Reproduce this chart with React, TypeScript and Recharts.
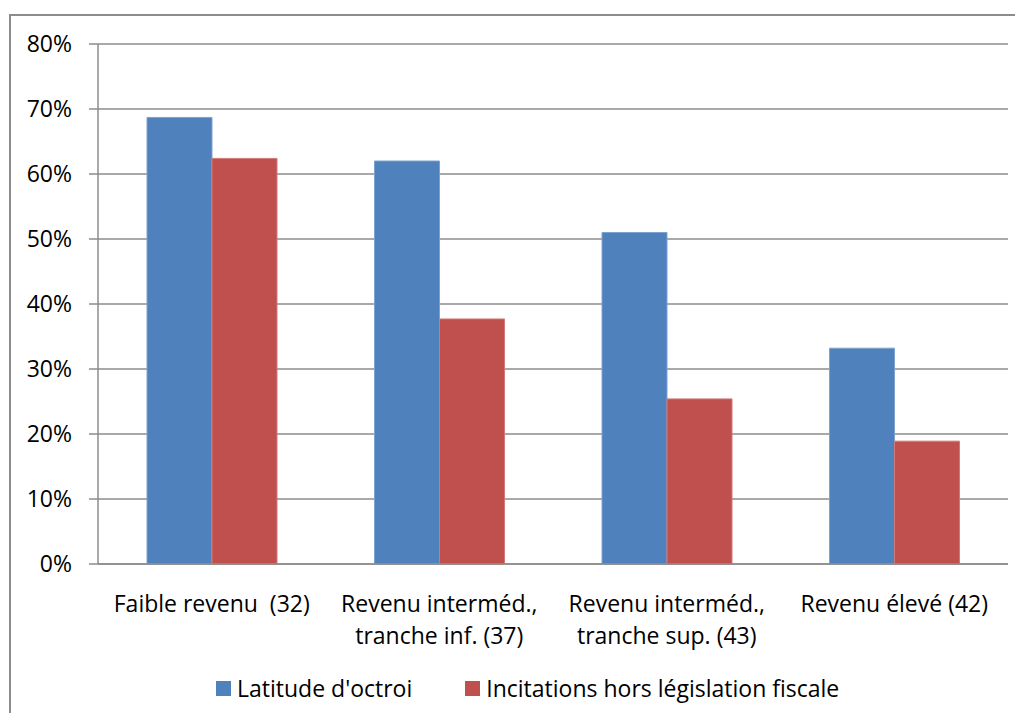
import React from "react";
import { BarChart, Bar, XAxis, YAxis, CartesianGrid } from "recharts";

// categories (\n marks the line break of the axis label)
const categories = [
  "Faible revenu  (32)",
  "Revenu interméd.,\ntranche inf. (37)",
  "Revenu interméd.,\ntranche sup. (43)",
  "Revenu élevé (42)",
];
const latitude = [68.7, 62.0, 51.0, 33.2];
const incitations = [62.4, 37.7, 25.4, 18.9];
const yTicks = [0, 10, 20, 30, 40, 50, 60, 70, 80];
const boundaryTicks = [0, 1, 2, 3, 4];

const seriesNames = ["Latitude d'octroi", "Incitations hors législation fiscale"];
const BLUE = "#4F81BD";
const RED = "#C0504D";
const GRID = "#8c8c8c";
const FONT = "'Open Sans', sans-serif";

const data = categories.map((name, i) => ({
  name,
  latitude: latitude[i],
  incitations: incitations[i],
}));

function CategoryTick(props: any) {
  const { x, y, payload } = props;
  const lines = String(payload.value).split("\n");
  return (
    <text x={x} y={y} textAnchor="middle" fill="#000" fontSize={23} fontFamily={FONT}>
      {lines.map((l, i) => (
        <tspan key={i} x={x} dy={i === 0 ? "0.71em" : "1.38em"} style={{ whiteSpace: "pre" }}>
          {l}
        </tspan>
      ))}
    </text>
  );
}

export default function App() {
  return (
    <div style={{ position: "relative", margin: -8, width: 1023, height: 721, overflow: "hidden", background: "#fff" }}>
      <div
        style={{
          position: "absolute",
          left: 9,
          top: 14,
          width: 1100,
          height: 800,
          border: `2px solid ${GRID}`,
        }}
      />
      <div style={{ position: "absolute", left: 0, top: 0 }}>
        <BarChart
          width={1023}
          height={721}
          data={data}
          margin={{ top: 44, right: 15, left: 0, bottom: 57 }}
          barCategoryGap={49}
          barGap={0}
        >
          <CartesianGrid horizontal vertical={false} stroke={GRID} strokeWidth={1.5} />
          <XAxis
            xAxisId="bounds"
            type="number"
            domain={[0, 4]}
            ticks={boundaryTicks}
            tick={false}
            tickSize={9}
            height={0}
            axisLine={false}
            tickLine={{ stroke: GRID, strokeWidth: 1.5 }}
          />
          <XAxis
            dataKey="name"
            height={100}
            tickLine={false}
            axisLine={{ stroke: GRID, strokeWidth: 1.5 }}
            tick={<CategoryTick />}
            tickMargin={26}
            interval={0}
          />
          <YAxis
            width={98}
            domain={[0, 80]}
            ticks={yTicks}
            interval={0}
            tickFormatter={(v: number) => `${v}%`}
            tickSize={9}
            tickMargin={17}
            axisLine={{ stroke: GRID, strokeWidth: 1.5 }}
            tickLine={{ stroke: GRID, strokeWidth: 1.5 }}
            tick={{ fill: "#000", fontSize: 23, fontFamily: FONT }}
          />
          <Bar dataKey="latitude" fill={BLUE} stroke="#7DA2CE" strokeWidth={1} isAnimationActive={false} />
          <Bar dataKey="incitations" fill={RED} stroke="#D07A78" strokeWidth={1} isAnimationActive={false} />
        </BarChart>
      </div>
      <div
        style={{
          position: "absolute",
          left: 216,
          top: 672,
          display: "flex",
          alignItems: "center",
          fontFamily: FONT,
          fontSize: 23,
          color: "#000",
          whiteSpace: "nowrap",
        }}
      >
        {seriesNames.map((n, i) => (
          <div key={n} style={{ display: "flex", alignItems: "center", marginRight: i === 0 ? 53 : 0 }}>
            <div style={{ width: 15, height: 15, background: i === 0 ? BLUE : RED, marginRight: 6 }} />
            <span>{n}</span>
          </div>
        ))}
      </div>
    </div>
  );
}
